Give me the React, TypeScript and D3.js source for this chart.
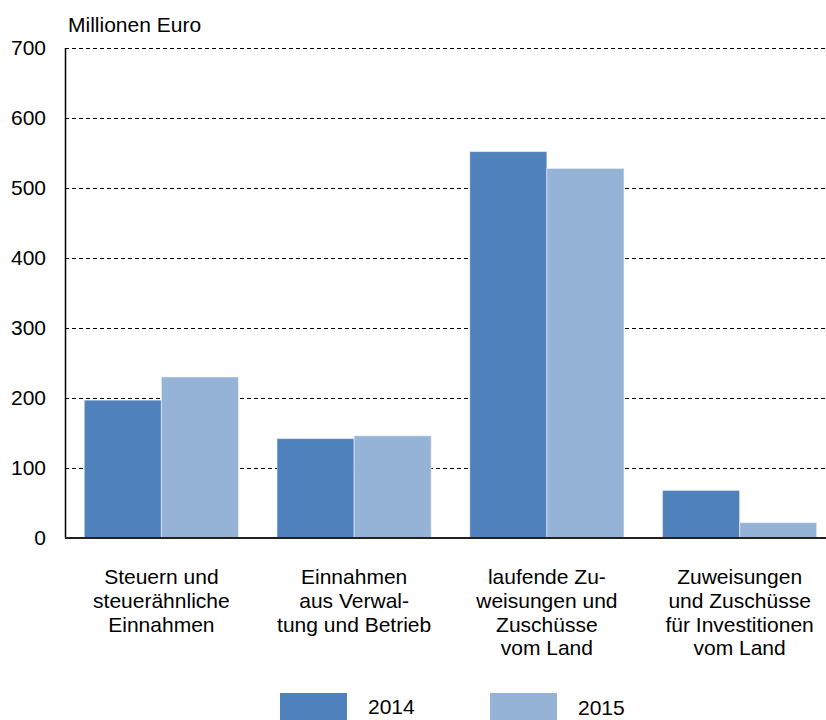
import * as d3 from 'd3';

const categories = [
  ['Steuern und', 'steuerähnliche', 'Einnahmen'],
  ['Einnahmen', 'aus Verwal-', 'tung und Betrieb'],
  ['laufende Zu-', 'weisungen und', 'Zuschüsse', 'vom Land'],
  ['Zuweisungen', 'und Zuschüsse', 'für Investitionen', 'vom Land'],
];
const years = ['2014', '2015'];
const values2014 = [197, 142, 552, 68];
const values2015 = [230, 146, 528, 22];
const yTicks = [0, 100, 200, 300, 400, 500, 600, 700];

const COLORS = ['#4F81BD', '#95B3D7'];
const FONT = 'Liberation Sans, Arial, sans-serif';
const FS = 21;

export default function App() {
  const width = 826;
  const height = 720;
  const left = 65;
  const top = 48;
  const bottom = 538;

  const x = d3.scaleBand<number>()
    .domain(categories.map((_, i) => i))
    .range([left, 836])
    .paddingInner(0.2)
    .paddingOuter(0.1);
  const xSub = d3.scaleBand<number>().domain([0, 1]).range([0, x.bandwidth()]);
  const y = d3.scaleLinear().domain([0, 700]).range([bottom, top]);

  const series = [values2014, values2015];

  return (
    <svg
      width={width}
      height={height}
      style={{ position: 'absolute', left: 0, top: 0, background: '#fff' }}
      fontFamily={FONT}
    >
      {/* gridlines */}
      {yTicks.filter(t => t > 0).map(t => (
        <line key={t} x1={left} x2={width} y1={y(t) + 0.5} y2={y(t) + 0.5}
          stroke="#000" strokeWidth={1} strokeDasharray="4,3" />
      ))}

      {/* bars */}
      {series.map((vals, s) =>
        vals.map((v, i) => (
          <rect key={`${s}-${i}`}
            x={(x(i) ?? 0) + (xSub(s) ?? 0)}
            y={y(v)}
            width={xSub.bandwidth()}
            height={y(0) - y(v)}
            fill={COLORS[s]}
            stroke="#ffffff" strokeOpacity={0.5} strokeWidth={1} />
        ))
      )}

      {/* axes */}
      <line x1={left + 0.5} x2={left + 0.5} y1={top} y2={bottom} stroke="#000" strokeWidth={1.5} />
      <line x1={left} x2={width} y1={bottom} y2={bottom} stroke="#222" strokeWidth={2} />

      {/* y tick labels */}
      {yTicks.map(t => (
        <text key={t} x={46} y={y(t)} dy="0.35em" textAnchor="end" fontSize={FS} fill="#000">
          {t}
        </text>
      ))}
      <text x={68} y={32} fontSize={FS} fill="#000">Millionen Euro</text>

      {/* category labels */}
      {categories.map((lines, i) => (
        <text key={i} textAnchor="middle" fontSize={FS} fill="#000">
          {lines.map((l, j) => (
            <tspan key={j} x={(x(i) ?? 0) + x.bandwidth() / 2} y={584 + j * 23.8}>{l}</tspan>
          ))}
        </text>
      ))}

      {/* legend */}
      {years.map((yr, s) => (
        <g key={yr} transform={`translate(${280 + s * 210},693)`}>
          <rect width={67} height={27} fill={COLORS[s]} />
          <text x={88} y={21 + s} fontSize={FS} fill="#000">{yr}</text>
        </g>
      ))}
    </svg>
  );
}
